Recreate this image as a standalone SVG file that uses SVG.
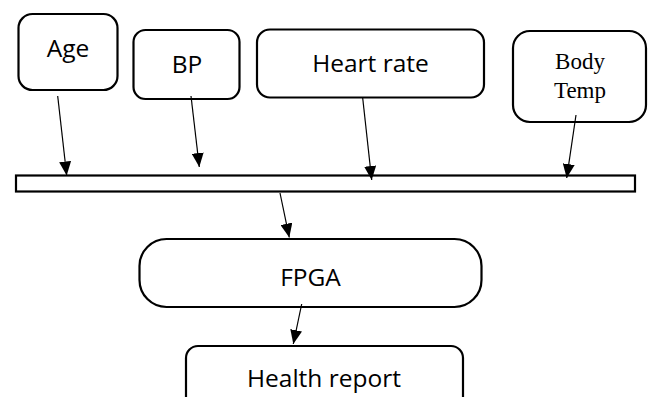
<svg xmlns="http://www.w3.org/2000/svg" width="649" height="397" viewBox="0 0 649 397">
<style>
.box{fill:#fff;stroke:#000;stroke-width:2.2}
.lbl{font-family:"Open Sans","Liberation Sans",sans-serif;font-size:24.5px;fill:#000;text-anchor:middle}
.ser{font-family:"Liberation Serif","Times New Roman",serif;font-size:23px;fill:#000;text-anchor:middle}
.conn{stroke:#000;stroke-width:1.2;fill:none;marker-end:url(#ah)}
</style>
<defs>
<marker id="ah" viewBox="0 0 14 12" refX="14" refY="6" markerWidth="14" markerHeight="12" orient="auto" markerUnits="userSpaceOnUse">
<path d="M0,0 L14,6 L0,12 z" fill="#000"/>
</marker>
</defs>
<rect width="649" height="397" fill="#fff"/>
<g id="age"><rect class="box" x="18.5" y="14" width="99" height="76" rx="14"/><text class="lbl" x="68" y="57">Age</text></g>
<g id="bp"><rect class="box" x="133.5" y="30" width="106" height="69" rx="12"/><text class="lbl" x="187" y="73">BP</text></g>
<g id="heart"><rect class="box" x="257" y="29.5" width="227" height="68" rx="13"/><text class="lbl" x="370.5" y="72">Heart rate</text></g>
<g id="temp"><rect class="box" x="513" y="31" width="133" height="91" rx="17"/><text class="ser" x="580" y="69">Body</text><text class="ser" x="580" y="98">Temp</text></g>
<g id="bus"><rect class="box" x="16" y="175.5" width="619" height="16"/></g>
<g id="fpga"><rect class="box" x="139.5" y="239" width="342" height="68" rx="27"/><text class="lbl" x="310.5" y="286">FPGA</text></g>
<g id="report"><rect class="box" x="186" y="346" width="277" height="80" rx="12"/><text class="lbl" x="324" y="387">Health report</text></g>
<g id="connectors">
<line class="conn" x1="57.7" y1="96" x2="66.7" y2="175.5"/>
<line class="conn" x1="191" y1="96" x2="199.3" y2="167"/>
<line class="conn" x1="362.7" y1="98" x2="371.7" y2="180"/>
<line class="conn" x1="576" y1="115" x2="566.7" y2="178"/>
<line class="conn" x1="280" y1="193" x2="289.3" y2="237.5"/>
<line class="conn" x1="301.7" y1="304" x2="293.3" y2="344"/>
</g>
</svg>
